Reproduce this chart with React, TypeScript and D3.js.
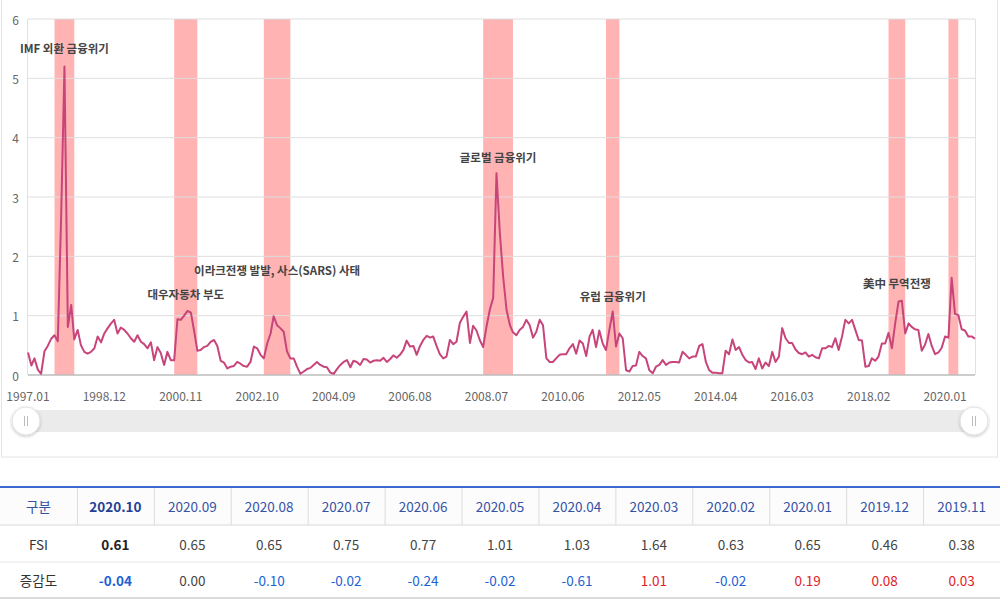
import React from 'react';
import * as d3 from 'd3';

// ---- DATA ----
const startMonth = '1997.01';
const fsiValues: number[] = [
  0.38, 0.16, 0.28, 0.09, 0.02, 0.40, 0.49, 0.61, 0.67, 0.57, 2.7, 5.2,
  0.81, 1.18, 0.60, 0.76, 0.50, 0.39, 0.36, 0.39, 0.45, 0.65, 0.55, 0.70,
  0.79, 0.87, 0.93, 0.70, 0.80, 0.76, 0.70, 0.62, 0.56, 0.67, 0.56, 0.52,
  0.45, 0.55, 0.25, 0.47, 0.37, 0.17, 0.39, 0.25, 0.25, 0.94, 0.93, 1.00,
  1.08, 1.05, 0.76, 0.41, 0.42, 0.47, 0.49, 0.56, 0.59, 0.49, 0.24, 0.21,
  0.11, 0.14, 0.15, 0.22, 0.19, 0.15, 0.14, 0.22, 0.48, 0.45, 0.34, 0.28,
  0.53, 0.70, 0.99, 0.84, 0.79, 0.73, 0.40, 0.28, 0.28, 0.14, 0.02, 0.06,
  0.10, 0.12, 0.17, 0.22, 0.17, 0.14, 0.13, 0.04, 0.02, 0.10, 0.17, 0.22,
  0.25, 0.13, 0.24, 0.22, 0.17, 0.27, 0.26, 0.21, 0.24, 0.25, 0.24, 0.29,
  0.22, 0.27, 0.33, 0.29, 0.34, 0.42, 0.58, 0.48, 0.49, 0.34, 0.49, 0.59,
  0.66, 0.63, 0.65, 0.49, 0.35, 0.28, 0.31, 0.59, 0.52, 0.56, 0.88, 0.98,
  1.07, 0.54, 0.83, 0.75, 0.59, 0.47, 0.81, 1.10, 1.30, 3.40, 2.39, 1.66,
  1.10, 0.84, 0.72, 0.67, 0.76, 0.81, 0.93, 0.84, 0.63, 0.73, 0.93, 0.84,
  0.28, 0.22, 0.22, 0.28, 0.34, 0.35, 0.35, 0.45, 0.52, 0.36, 0.58, 0.53,
  0.32, 0.65, 0.76, 0.47, 0.75, 0.53, 0.42, 0.76, 1.07, 0.48, 0.70, 0.62,
  0.08, 0.06, 0.15, 0.16, 0.39, 0.32, 0.28, 0.08, 0.03, 0.14, 0.17, 0.25,
  0.17, 0.21, 0.22, 0.22, 0.21, 0.39, 0.34, 0.28, 0.31, 0.31, 0.49, 0.52,
  0.22, 0.08, 0.04, 0.04, 0.03, 0.03, 0.41, 0.35, 0.60, 0.42, 0.47, 0.34,
  0.25, 0.21, 0.22, 0.10, 0.28, 0.11, 0.21, 0.15, 0.39, 0.22, 0.31, 0.79,
  0.62, 0.54, 0.54, 0.43, 0.37, 0.35, 0.38, 0.31, 0.34, 0.30, 0.28, 0.45,
  0.45, 0.49, 0.47, 0.62, 0.42, 0.65, 0.93, 0.87, 0.93, 0.76, 0.59, 0.58,
  0.14, 0.15, 0.28, 0.24, 0.31, 0.53, 0.53, 0.71, 0.45, 0.87, 1.24, 1.25,
  0.70, 0.87, 0.81, 0.77, 0.76, 0.41, 0.51, 0.69, 0.49, 0.35, 0.38, 0.46,
  0.65, 0.63, 1.64, 1.03, 1.01, 0.77, 0.75, 0.65, 0.65, 0.61,
];
const xTickLabels = ['1997.01', '1998.12', '2000.11', '2002.10', '2004.09', '2006.08', '2008.07', '2010.06', '2012.05', '2014.04', '2016.03', '2018.02', '2020.01'];
const yTickValues = [0, 1, 2, 3, 4, 5, 6];
const crisisStarts = ['1997.09', '2000.09', '2002.12', '2008.06', '2011.07', '2018.08', '2020.02'];
const crisisEnds = ['1998.03', '2001.04', '2003.08', '2009.03', '2011.11', '2019.01', '2020.05'];
const crisisLabels = ['IMF 외환 금융위기', '대우자동차 부도', '이라크전쟁 발발, 사스(SARS) 사태', '글로벌 금융위기', '유럽 금융위기', '美中 무역전쟁', ''];
const crisisLabelLift = [0, -1, 28, -2, -2, 0, 0];

const tableHeadLabel = '구분';
const tableMonths = ['2020.10', '2020.09', '2020.08', '2020.07', '2020.06', '2020.05', '2020.04', '2020.03', '2020.02', '2020.01', '2019.12', '2019.11'];
const tableFsi = [0.61, 0.65, 0.65, 0.75, 0.77, 1.01, 1.03, 1.64, 0.63, 0.65, 0.46, 0.38];
const tableChange = [-0.04, 0.0, -0.1, -0.02, -0.24, -0.02, -0.61, 1.01, -0.02, 0.19, 0.08, 0.03];
const rowLabels = ['FSI', '증감도'];

// ---- LAYOUT ----
const W = 1000;
const H = 600;
const plotLeft = 28;
const plotRight = 975;
const plotTop = 19;
const plotBottom = 375;
const font = '"Noto Sans CJK KR", "Noto Sans", sans-serif';

const parseMonth = d3.timeParse('%Y.%m');

export default function App() {
  const start = parseMonth(startMonth) as Date;
  const months = fsiValues.map((_, i) => d3.timeMonth.offset(start, i));
  const x = d3.scaleTime().domain([months[0], months[months.length - 1]]).range([plotLeft, plotRight]);
  const y = d3.scaleLinear().domain([0, 6]).range([plotBottom, plotTop]);
  const data = months.map((d, i) => ({ d, v: fsiValues[i] }));
  const line = d3.line<{ d: Date; v: number }>().x((p) => x(p.d)).y((p) => y(p.v));

  const bands = crisisStarts.map((s, i) => {
    const s0 = parseMonth(s) as Date;
    const e0 = parseMonth(crisisEnds[i]) as Date;
    const inBand = data.filter((p) => p.d >= s0 && p.d <= e0);
    const mx = d3.max(inBand, (p) => p.v) ?? 0;
    return { x0: x(s0), x1: x(e0), label: crisisLabels[i], maxV: mx, lift: crisisLabelLift[i] };
  });

  const table = d3.scaleBand<number>().domain(d3.range(13)).range([0, W]);
  const tableTop = 487;
  const rowH = [38, 37, 36];
  const rowY = [tableTop, tableTop + rowH[0], tableTop + rowH[0] + rowH[1], tableTop + rowH[0] + rowH[1] + rowH[2]];

  const changeColor = (v: number) => (v < 0 ? '#1b62d4' : v > 0 ? '#e3201f' : '#444');

  return (
    <svg width={W} height={H} style={{ position: 'absolute', left: 0, top: 0, background: '#fff' }} fontFamily={font}>
      <defs>
        <filter id="hshadow" x="-50%" y="-50%" width="200%" height="200%">
          <feDropShadow dx="0" dy="1" stdDeviation="1.5" floodColor="#000" floodOpacity="0.25" />
        </filter>
      </defs>
      {/* outer container */}
      <rect x={1.5} y={-2} width={996} height={459} fill="none" stroke="#e4e4e4" strokeWidth={1} />

      {/* crisis bands */}
      {bands.map((b, i) => (
        <rect key={'b' + i} x={b.x0} y={plotTop} width={b.x1 - b.x0} height={plotBottom - plotTop} fill="#ffb3b3" />
      ))}

      {/* gridlines */}
      {yTickValues.map((t) => (
        <line key={'g' + t} x1={plotLeft} x2={plotRight} y1={y(t)} y2={y(t)} stroke={t === 0 ? '#bdbdbd' : '#dedede'} strokeWidth={t === 0 ? 1.5 : 1} />
      ))}
      <line x1={plotLeft - 0.5} x2={plotLeft - 0.5} y1={plotTop} y2={plotBottom} stroke="#e2e2e2" />
      <line x1={plotRight + 0.5} x2={plotRight + 0.5} y1={plotTop} y2={plotBottom} stroke="#e2e2e2" />

      {/* y labels */}
      {yTickValues.map((t) => (
        <text key={'yl' + t} x={19} y={y(t)} textAnchor="end" dominantBaseline="central" fontSize={12} fill="#666">
          {t}
        </text>
      ))}

      {/* x labels */}
      {xTickLabels.map((l) => (
        <text key={'xl' + l} x={x(parseMonth(l) as Date)} y={395} textAnchor="middle" dominantBaseline="central" fontSize={12} fill="#666">
          {l}
        </text>
      ))}

      {/* line */}
      <path d={line(data) ?? ''} fill="none" stroke="#c8457b" strokeWidth={2} strokeLinejoin="round" />

      {/* crisis labels */}
      {bands.map((b, i) =>
        b.label ? (
          <text key={'cl' + i} x={(b.x0 + b.x1) / 2} y={y(b.maxV) - 18 - b.lift} textAnchor="middle" dominantBaseline="central" fontSize={11.5} fontWeight={700} fill="#444">
            {b.label}
          </text>
        ) : null
      )}

      {/* navigator */}
      <rect x={26} y={410} width={948} height={22} fill="#ebebeb" />
      {[26, 974].map((cx) => (
        <g key={'h' + cx} filter="url(#hshadow)">
          <circle cx={cx} cy={421} r={14} fill="#fff" stroke="#e0e0e0" />
        </g>
      ))}
      {[26, 974].map((cx) => (
        <g key={'hl' + cx} stroke="#bbb" strokeWidth={1}>
          <line x1={cx - 1.5} x2={cx - 1.5} y1={416} y2={426} />
          <line x1={cx + 1.5} x2={cx + 1.5} y1={416} y2={426} />
        </g>
      ))}

      {/* table */}
      <rect x={0} y={rowY[0]} width={W} height={rowH[0]} fill="#fcfcfd" />
      <line x1={0} x2={W} y1={rowY[0]} y2={rowY[0]} stroke="#3b69cf" strokeWidth={2} />
      <line x1={0} x2={W} y1={rowY[1]} y2={rowY[1]} stroke="#d9d9d9" />
      <line x1={0} x2={W} y1={rowY[2]} y2={rowY[2]} stroke="#e6e6e6" />
      <line x1={0} x2={W} y1={rowY[3]} y2={rowY[3]} stroke="#cfcfcf" strokeWidth={1.5} />
      {d3.range(1, 13).map((k) => (
        <line key={'cd' + k} x1={(table(k) ?? 0) + 0.5} x2={(table(k) ?? 0) + 0.5} y1={rowY[0] + 1} y2={rowY[1]} stroke="#dcdcdc" />
      ))}
      {/* header */}
      <text x={(table(0) ?? 0) + table.bandwidth() / 2} y={(rowY[0] + rowY[1]) / 2} textAnchor="middle" dominantBaseline="central" fontSize={13.5} fill="#3552a5">
        {tableHeadLabel}
      </text>
      {tableMonths.map((m, k) => (
        <text key={'tm' + m} x={(table(k + 1) ?? 0) + table.bandwidth() / 2} y={(rowY[0] + rowY[1]) / 2} textAnchor="middle" dominantBaseline="central" fontSize={13.5} fontWeight={k === 0 ? 700 : 400} fill={k === 0 ? '#233f94' : '#3552a5'}>
          {m}
        </text>
      ))}
      {/* rows */}
      {rowLabels.map((r, ri) => (
        <text key={'rl' + r} x={(table(0) ?? 0) + table.bandwidth() / 2} y={(rowY[ri + 1] + rowY[ri + 2]) / 2} textAnchor="middle" dominantBaseline="central" fontSize={13.5} fill="#333">
          {r}
        </text>
      ))}
      {tableFsi.map((v, k) => (
        <text key={'tf' + k} x={(table(k + 1) ?? 0) + table.bandwidth() / 2} y={(rowY[1] + rowY[2]) / 2} textAnchor="middle" dominantBaseline="central" fontSize={13.5} fontWeight={k === 0 ? 700 : 400} fill={k === 0 ? '#222' : '#444'}>
          {v.toFixed(2)}
        </text>
      ))}
      {tableChange.map((v, k) => (
        <text key={'tc' + k} x={(table(k + 1) ?? 0) + table.bandwidth() / 2} y={(rowY[2] + rowY[3]) / 2} textAnchor="middle" dominantBaseline="central" fontSize={13.5} fontWeight={k === 0 ? 700 : 400} fill={changeColor(v)}>
          {v.toFixed(2)}
        </text>
      ))}
    </svg>
  );
}
